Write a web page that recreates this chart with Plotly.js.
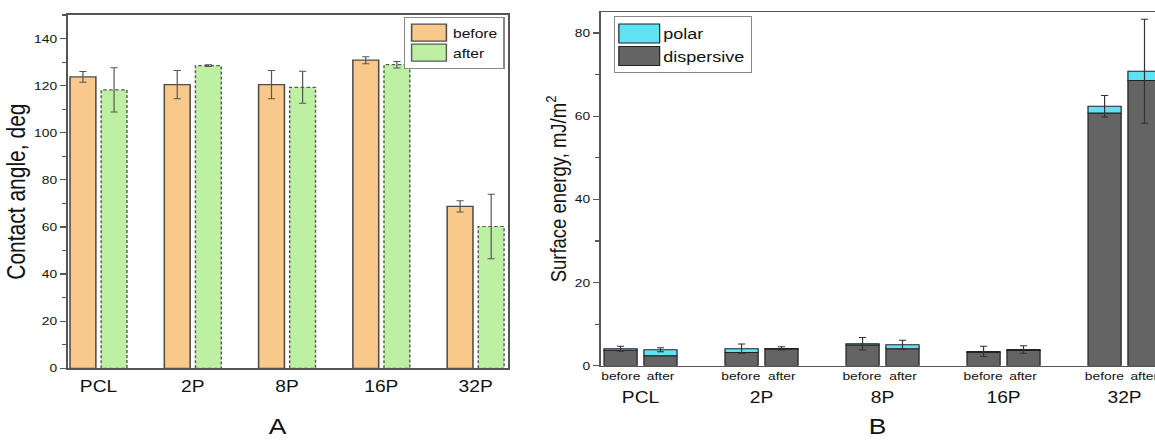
<!DOCTYPE html>
<html><head><meta charset="utf-8">
<script src="https://cdn.plot.ly/plotly-3.0.1.min.js"></script>
<style>
html,body{margin:0;padding:0;overflow:hidden;background:#fff;width:1155px;height:441px}
#wrap{width:1000px;height:441px;transform:scaleX(1.2);transform-origin:0 0;}
#chart{width:1000px;height:441px}
</style></head>
<body><div id="wrap"><div id="chart"></div></div>
<script>
// ---- data ----
const samples = ['PCL', '2P', '8P', '16P', '32P'];
const stateLabels = ['before', 'after'];
// Panel A: contact angle, deg
const angleBefore    = [123.7, 120.4, 120.4, 130.8, 68.7];
const angleBeforeErr = [2.3, 6.0, 6.0, 1.5, 2.4];
const angleAfter     = [118.2, 128.5, 119.3, 128.9, 60.2];
const angleAfterErr  = [9.4, 0.4, 6.8, 1.4, 13.7];
// Panel B: surface energy, mJ/m2
const dispBefore     = [3.70, 3.20, 4.96, 3.20, 60.8];
const polarBefore    = [0.38, 0.90, 0.32, 0.24, 1.6];
const totalBeforeErr = [0.6, 1.1, 1.5, 1.25, 2.6];
const dispAfter      = [2.40, 4.00, 4.08, 3.68, 68.6];
const polarAfter     = [1.44, 0.16, 0.96, 0.24, 2.2];
const totalAfterErr  = [0.5, 0.4, 1.1, 0.9, 12.5];

const errA = c => ({type: 'data', visible: true, color: c, thickness: 1, width: 3});

const traces = [
  {type: 'bar', x: samples, y: angleBefore, name: stateLabels[0], xaxis: 'x', yaxis: 'y', legend: 'legend',
   marker: {color: '#f9c98b', line: {color: '#4d4d4d', width: 1.3}},
   error_y: Object.assign(errA('#555'), {array: angleBeforeErr})},
  {type: 'bar', x: samples, y: angleAfter, name: stateLabels[1], xaxis: 'x', yaxis: 'y', legend: 'legend',
   marker: {color: '#bdf0a2', line: {color: '#5a5a5a', width: 1.2}},
   error_y: Object.assign(errA('#555'), {array: angleAfterErr})},
  {type: 'bar', x: samples, y: dispBefore, name: 'dispersive', xaxis: 'x2', yaxis: 'y2', legend: 'legend2',
   offsetgroup: 'before', legendgroup: 'disp', legendrank: 2,
   marker: {color: '#646464', line: {color: '#222', width: 1}}},
  {type: 'bar', x: samples, y: dispAfter, name: 'dispersive', xaxis: 'x2', yaxis: 'y2', legend: 'legend2',
   offsetgroup: 'after', legendgroup: 'disp', showlegend: false,
   marker: {color: '#646464', line: {color: '#222', width: 1}}},
  {type: 'bar', x: samples, y: polarBefore, base: dispBefore, name: 'polar', xaxis: 'x2', yaxis: 'y2', legend: 'legend2',
   offsetgroup: 'before', legendgroup: 'polar', legendrank: 1,
   marker: {color: '#5fe3f3', line: {color: '#222', width: 1}},
   error_y: Object.assign(errA('#333'), {array: totalBeforeErr})},
  {type: 'bar', x: samples, y: polarAfter, base: dispAfter, name: 'polar', xaxis: 'x2', yaxis: 'y2', legend: 'legend2',
   offsetgroup: 'after', legendgroup: 'polar', showlegend: false,
   marker: {color: '#5fe3f3', line: {color: '#222', width: 1}},
   error_y: Object.assign(errA('#333'), {array: totalAfterErr})}
];

const axLine = {showline: true, mirror: true, linecolor: '#555', linewidth: 1.5, showgrid: false, zeroline: false};
const yTicks = {ticks: 'outside', ticklen: 5, tickwidth: 1.2, tickcolor: '#555', tickfont: {size: 11.5, color: '#111'},
  minor: {dtick: 10, ticks: 'outside', ticklen: 3, tickwidth: 1.1, tickcolor: '#555', showgrid: false}};

const annotations = [
  {text: 'A', xref: 'paper', yref: 'paper', x: 0.2317, y: 0.032, xanchor: 'center', yanchor: 'middle', showarrow: false, font: {size: 22, color: '#111'}},
  {text: 'B', xref: 'paper', yref: 'paper', x: 0.7317, y: 0.034, xanchor: 'center', yanchor: 'middle', showarrow: false, font: {size: 22, color: '#111'}}
];
samples.forEach(s => {
  stateLabels.forEach((st, k) => {
    annotations.push({text: st, xref: 'x2', yref: 'y2', x: s, y: 0, xshift: k === 0 ? -16.7 : 16.7, yshift: -2,
      xanchor: 'center', yanchor: 'top', showarrow: false, font: {size: 11.5, color: '#111'}});
  });
});

const layout = {
  width: 1000, height: 441,
  margin: {l: 0, r: 0, t: 0, b: 0},
  paper_bgcolor: '#fff', plot_bgcolor: '#fff',
  font: {family: '"Liberation Sans", Arial, sans-serif', color: '#111'},
  barmode: 'group', bargap: 0.34, bargroupgap: 0.17,
  xaxis: Object.assign({}, axLine, {domain: [0.0564, 0.4233], range: [-0.327, 4.343], type: 'category', ticks: '',
    tickfont: {size: 16, color: '#111'}, ticklabelstandoff: 3, anchor: 'y'}),
  yaxis: Object.assign({}, axLine, yTicks, {domain: [0.1649, 0.966], range: [0, 150], dtick: 20, anchor: 'x',
    title: {text: 'Contact angle, deg', font: {size: 21, color: '#111'}, standoff: 1}}),
  xaxis2: Object.assign({}, axLine, {domain: [0.5006, 0.9717], range: [-0.329, 4.343], type: 'category', ticks: '',
    tickfont: {size: 16, color: '#111'}, ticklabelstandoff: 17, anchor: 'y2'}),
  yaxis2: Object.assign({}, axLine, yTicks, {domain: [0.1707, 0.9721], range: [0, 85], dtick: 20, anchor: 'x2',
    title: {text: 'Surface energy, mJ/m<sup>2</sup>', font: {size: 18.5, color: '#111'}, standoff: 2}}),
  legend: {x: 0.4205, y: 0.962, xanchor: 'right', yanchor: 'top', bgcolor: '#fff', bordercolor: '#888', borderwidth: 1,
    font: {size: 13, color: '#111'}, itemwidth: 30, tracegroupgap: 0},
  legend2: {x: 0.5117, y: 0.963, xanchor: 'left', yanchor: 'top', bgcolor: '#fff', bordercolor: '#888', borderwidth: 1,
    font: {size: 15, color: '#111'}, itemwidth: 30, tracegroupgap: 0},
  annotations: annotations
};

function touchUp(gd) {
  // dashed outline on the "after" bars of panel A
  const tr = gd.querySelectorAll('.subplot.xy .barlayer .trace');
  if (tr[1]) tr[1].querySelectorAll('.points path').forEach(p => { p.style.strokeDasharray = '3px,2px'; });
  // larger legend swatches, as in the reference
  gd.querySelectorAll('g.legend .legendpoints path').forEach(p => { p.setAttribute('d', 'M14.5,8.5H-14.5V-8.5H14.5Z'); });
  gd.querySelectorAll('g.legend2 .legendpoints path').forEach(p => { p.setAttribute('d', 'M17,9.5H-17V-9.5H17Z'); });
}

Plotly.newPlot('chart', traces, layout, {staticPlot: true, displayModeBar: false}).then(gd => {
  touchUp(gd);
  gd.on('plotly_afterplot', () => touchUp(gd));
  setTimeout(() => touchUp(gd), 0);
  setTimeout(() => touchUp(gd), 150);
});
</script>
</body></html>
